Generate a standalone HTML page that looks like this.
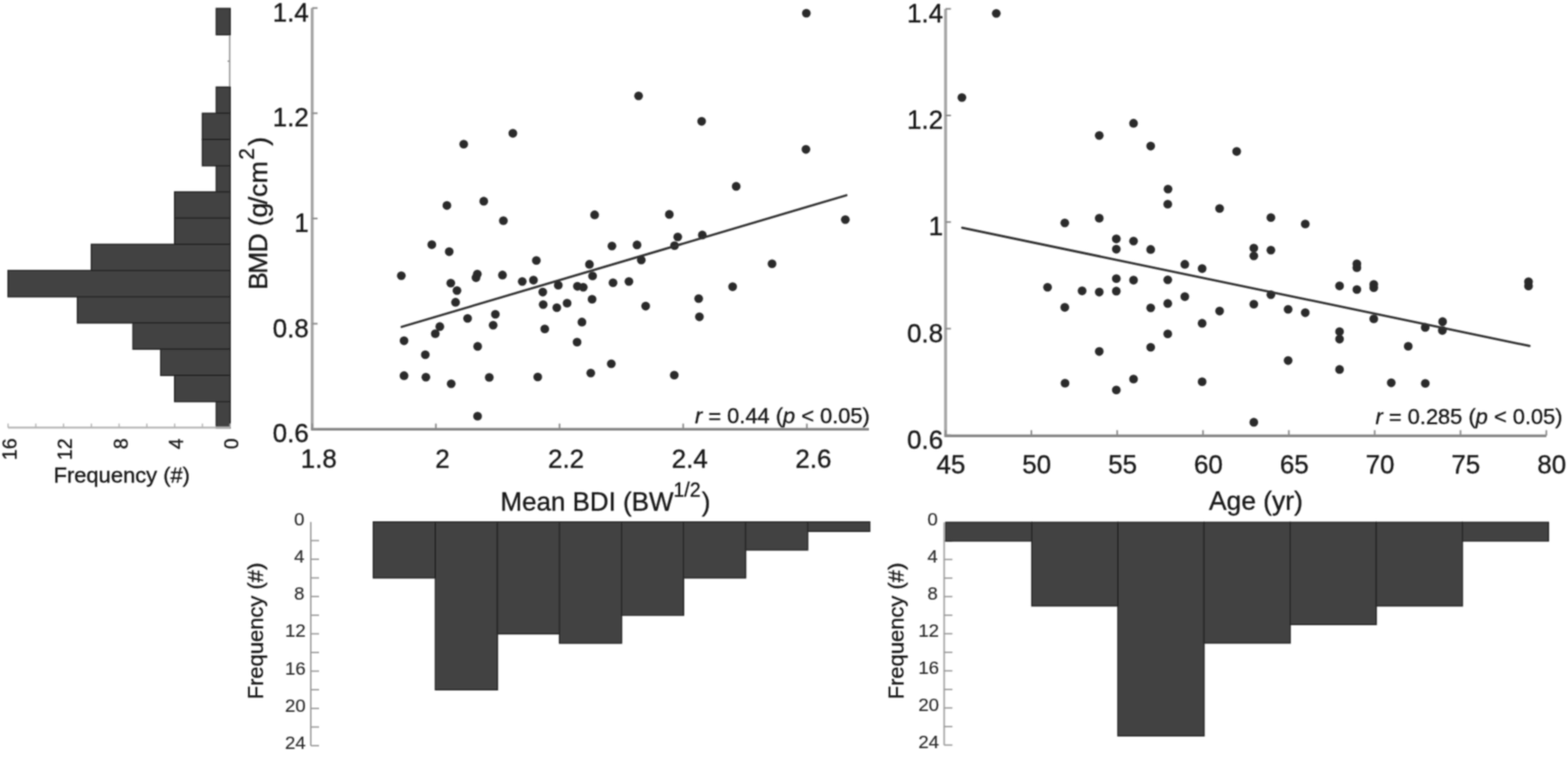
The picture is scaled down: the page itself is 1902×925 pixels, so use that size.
<!DOCTYPE html>
<html><head><meta charset="utf-8"><title>BMD vs BDI and Age</title>
<style>
html,body{margin:0;padding:0;background:#fff;}
body{width:1902px;height:925px;overflow:hidden;}
svg{display:block;}
svg text{font-family:"Liberation Sans", Arial, Helvetica, sans-serif;fill:#141414;stroke:#141414;stroke-width:0.35px;}
</style></head>
<body>
<svg width="1902" height="925" viewBox="0 0 1902 925">
<rect width="1902" height="925" fill="#fff"/>
<defs><filter id="bl" x="0" y="0" width="1902" height="925" filterUnits="userSpaceOnUse"><feConvolveMatrix order="5" kernelMatrix="0.0005 0.0050 0.0109 0.0050 0.0005 0.0050 0.0522 0.1141 0.0522 0.0050 0.0109 0.1141 0.2491 0.1141 0.0109 0.0050 0.0522 0.1141 0.0522 0.0050 0.0005 0.0050 0.0109 0.0050 0.0005" edgeMode="none"/></filter></defs>
<g id="fig" filter="url(#bl)">
<g id="hl">
<line x1="278.6" y1="10" x2="278.6" y2="518" stroke="#8a8a8a" stroke-width="1.6"/>
<rect x="262.36" y="10.3" width="16.84" height="31.77" fill="#424242" stroke="#262626" stroke-width="1.6"/>
<rect x="262.36" y="105.61" width="16.84" height="31.77" fill="#424242" stroke="#262626" stroke-width="1.6"/>
<rect x="245.52" y="137.38" width="33.68" height="31.77" fill="#424242" stroke="#262626" stroke-width="1.6"/>
<rect x="245.52" y="169.15" width="33.68" height="31.77" fill="#424242" stroke="#262626" stroke-width="1.6"/>
<rect x="262.36" y="200.92" width="16.84" height="31.77" fill="#424242" stroke="#262626" stroke-width="1.6"/>
<rect x="211.84" y="232.69" width="67.36" height="31.77" fill="#424242" stroke="#262626" stroke-width="1.6"/>
<rect x="211.84" y="264.46" width="67.36" height="31.77" fill="#424242" stroke="#262626" stroke-width="1.6"/>
<rect x="110.8" y="296.23" width="168.4" height="31.77" fill="#424242" stroke="#262626" stroke-width="1.6"/>
<rect x="9.76" y="328" width="269.44" height="31.77" fill="#424242" stroke="#262626" stroke-width="1.6"/>
<rect x="93.96" y="359.77" width="185.24" height="31.77" fill="#424242" stroke="#262626" stroke-width="1.6"/>
<rect x="161.32" y="391.54" width="117.88" height="31.77" fill="#424242" stroke="#262626" stroke-width="1.6"/>
<rect x="195" y="423.31" width="84.2" height="31.77" fill="#424242" stroke="#262626" stroke-width="1.6"/>
<rect x="211.84" y="455.08" width="67.36" height="31.77" fill="#424242" stroke="#262626" stroke-width="1.6"/>
<rect x="262.36" y="486.85" width="16.84" height="31.77" fill="#424242" stroke="#262626" stroke-width="1.6"/>
<line x1="276" y1="74.2" x2="279" y2="74.2" stroke="#8a8a8a" stroke-width="1.5"/>
<line x1="9.7" y1="518.3" x2="279.2" y2="518.3" stroke="#b4b4b4" stroke-width="2.2"/>
<line x1="279.2" y1="518.3" x2="279.2" y2="513.5" stroke="#b4b4b4" stroke-width="1.6"/>
<line x1="245.52" y1="518.3" x2="245.52" y2="513.5" stroke="#b4b4b4" stroke-width="1.6"/>
<line x1="211.84" y1="518.3" x2="211.84" y2="513.5" stroke="#b4b4b4" stroke-width="1.6"/>
<line x1="178.16" y1="518.3" x2="178.16" y2="513.5" stroke="#b4b4b4" stroke-width="1.6"/>
<line x1="144.48" y1="518.3" x2="144.48" y2="513.5" stroke="#b4b4b4" stroke-width="1.6"/>
<line x1="110.8" y1="518.3" x2="110.8" y2="513.5" stroke="#b4b4b4" stroke-width="1.6"/>
<line x1="77.12" y1="518.3" x2="77.12" y2="513.5" stroke="#b4b4b4" stroke-width="1.6"/>
<line x1="43.44" y1="518.3" x2="43.44" y2="513.5" stroke="#b4b4b4" stroke-width="1.6"/>
<line x1="9.76" y1="518.3" x2="9.76" y2="513.5" stroke="#b4b4b4" stroke-width="1.6"/>
<text transform="translate(11.96,531.5) rotate(-90)" text-anchor="end" dominant-baseline="central" font-size="23.5">16</text>
<text transform="translate(79.32,531.5) rotate(-90)" text-anchor="end" dominant-baseline="central" font-size="23.5">12</text>
<text transform="translate(146.68,531.5) rotate(-90)" text-anchor="end" dominant-baseline="central" font-size="23.5">8</text>
<text transform="translate(214.04,531.5) rotate(-90)" text-anchor="end" dominant-baseline="central" font-size="23.5">4</text>
<text transform="translate(281.4,531.5) rotate(-90)" text-anchor="end" dominant-baseline="central" font-size="23.5">0</text>
<text x="147.7" y="585" text-anchor="middle" font-size="26.6">Frequency (#)</text>
</g>
<g id="s1">
<line x1="378.7" y1="9.7" x2="378.7" y2="520" stroke="#a4a4a4" stroke-width="3.5"/>
<line x1="377.2" y1="520.4" x2="1054" y2="520.4" stroke="#868686" stroke-width="3.4"/>
<line x1="378.7" y1="9.7" x2="385.2" y2="9.7" stroke="#8a8a8a" stroke-width="2"/>
<text x="374.5" y="14.9" text-anchor="end" dominant-baseline="central" font-size="31.5">1.4</text>
<line x1="378.7" y1="137.28" x2="385.2" y2="137.28" stroke="#8a8a8a" stroke-width="2"/>
<text x="374.5" y="142.48" text-anchor="end" dominant-baseline="central" font-size="31.5">1.2</text>
<line x1="378.7" y1="264.86" x2="385.2" y2="264.86" stroke="#8a8a8a" stroke-width="2"/>
<text x="374.5" y="270.06" text-anchor="end" dominant-baseline="central" font-size="31.5">1</text>
<line x1="378.7" y1="392.44" x2="385.2" y2="392.44" stroke="#8a8a8a" stroke-width="2"/>
<text x="374.5" y="397.64" text-anchor="end" dominant-baseline="central" font-size="31.5">0.8</text>
<line x1="378.7" y1="520.02" x2="385.2" y2="520.02" stroke="#8a8a8a" stroke-width="2"/>
<text x="374.5" y="525.22" text-anchor="end" dominant-baseline="central" font-size="31.5">0.6</text>
<line x1="378.7" y1="520" x2="378.7" y2="513.5" stroke="#8a8a8a" stroke-width="2"/>
<text x="386.7" y="566.5" text-anchor="middle" font-size="31.5">1.8</text>
<line x1="528.7" y1="520" x2="528.7" y2="513.5" stroke="#8a8a8a" stroke-width="2"/>
<text x="536.7" y="566.5" text-anchor="middle" font-size="31.5">2</text>
<line x1="678.7" y1="520" x2="678.7" y2="513.5" stroke="#8a8a8a" stroke-width="2"/>
<text x="686.7" y="566.5" text-anchor="middle" font-size="31.5">2.2</text>
<line x1="828.7" y1="520" x2="828.7" y2="513.5" stroke="#8a8a8a" stroke-width="2"/>
<text x="836.7" y="566.5" text-anchor="middle" font-size="31.5">2.4</text>
<line x1="978.7" y1="520" x2="978.7" y2="513.5" stroke="#8a8a8a" stroke-width="2"/>
<text x="986.7" y="566.5" text-anchor="middle" font-size="31.5">2.6</text>
<circle cx="978.1" cy="16" r="5.3" fill="#2a2a2a"/>
<circle cx="774.6" cy="116.3" r="5.3" fill="#2a2a2a"/>
<circle cx="851.1" cy="147.1" r="5.3" fill="#2a2a2a"/>
<circle cx="977.6" cy="181.1" r="5.3" fill="#2a2a2a"/>
<circle cx="562.5" cy="174.8" r="5.3" fill="#2a2a2a"/>
<circle cx="622.1" cy="161.6" r="5.3" fill="#2a2a2a"/>
<circle cx="893" cy="225.9" r="5.3" fill="#2a2a2a"/>
<circle cx="811.9" cy="259.9" r="5.3" fill="#2a2a2a"/>
<circle cx="1025.4" cy="266.2" r="5.3" fill="#2a2a2a"/>
<circle cx="542.1" cy="249.1" r="5.3" fill="#2a2a2a"/>
<circle cx="586.8" cy="243.9" r="5.3" fill="#2a2a2a"/>
<circle cx="610.6" cy="267.5" r="5.3" fill="#2a2a2a"/>
<circle cx="721.3" cy="260.4" r="5.3" fill="#2a2a2a"/>
<circle cx="523.8" cy="296.6" r="5.3" fill="#2a2a2a"/>
<circle cx="544.9" cy="305.1" r="5.3" fill="#2a2a2a"/>
<circle cx="742.3" cy="298.2" r="5.3" fill="#2a2a2a"/>
<circle cx="650.6" cy="315.7" r="5.3" fill="#2a2a2a"/>
<circle cx="715" cy="320.4" r="5.3" fill="#2a2a2a"/>
<circle cx="486.8" cy="334.2" r="5.3" fill="#2a2a2a"/>
<circle cx="579" cy="332.2" r="5.3" fill="#2a2a2a"/>
<circle cx="577.4" cy="336.6" r="5.3" fill="#2a2a2a"/>
<circle cx="609.5" cy="333.4" r="5.3" fill="#2a2a2a"/>
<circle cx="633.5" cy="341.3" r="5.3" fill="#2a2a2a"/>
<circle cx="647.1" cy="339.6" r="5.3" fill="#2a2a2a"/>
<circle cx="718.8" cy="334.5" r="5.3" fill="#2a2a2a"/>
<circle cx="743.6" cy="342.7" r="5.3" fill="#2a2a2a"/>
<circle cx="546.8" cy="343.2" r="5.3" fill="#2a2a2a"/>
<circle cx="554.3" cy="352.3" r="5.3" fill="#2a2a2a"/>
<circle cx="677.2" cy="345.8" r="5.3" fill="#2a2a2a"/>
<circle cx="700.4" cy="347.1" r="5.3" fill="#2a2a2a"/>
<circle cx="707.5" cy="348.2" r="5.3" fill="#2a2a2a"/>
<circle cx="658.4" cy="354.1" r="5.3" fill="#2a2a2a"/>
<circle cx="552.6" cy="366.4" r="5.3" fill="#2a2a2a"/>
<circle cx="658.9" cy="369.3" r="5.3" fill="#2a2a2a"/>
<circle cx="687.9" cy="367.5" r="5.3" fill="#2a2a2a"/>
<circle cx="718.2" cy="362.8" r="5.3" fill="#2a2a2a"/>
<circle cx="675.4" cy="373" r="5.3" fill="#2a2a2a"/>
<circle cx="600.9" cy="381" r="5.3" fill="#2a2a2a"/>
<circle cx="567.2" cy="386" r="5.3" fill="#2a2a2a"/>
<circle cx="598.2" cy="394.3" r="5.3" fill="#2a2a2a"/>
<circle cx="533.5" cy="395.9" r="5.3" fill="#2a2a2a"/>
<circle cx="528" cy="404.5" r="5.3" fill="#2a2a2a"/>
<circle cx="490.1" cy="413.1" r="5.3" fill="#2a2a2a"/>
<circle cx="579.4" cy="419.9" r="5.3" fill="#2a2a2a"/>
<circle cx="515.9" cy="430" r="5.3" fill="#2a2a2a"/>
<circle cx="660.8" cy="398.7" r="5.3" fill="#2a2a2a"/>
<circle cx="705.9" cy="390.4" r="5.3" fill="#2a2a2a"/>
<circle cx="700" cy="414.7" r="5.3" fill="#2a2a2a"/>
<circle cx="741.5" cy="441" r="5.3" fill="#2a2a2a"/>
<circle cx="716.6" cy="452.3" r="5.3" fill="#2a2a2a"/>
<circle cx="652.3" cy="457" r="5.3" fill="#2a2a2a"/>
<circle cx="490.1" cy="455.4" r="5.3" fill="#2a2a2a"/>
<circle cx="516.6" cy="457.3" r="5.3" fill="#2a2a2a"/>
<circle cx="547.3" cy="465.3" r="5.3" fill="#2a2a2a"/>
<circle cx="593.5" cy="457.5" r="5.3" fill="#2a2a2a"/>
<circle cx="579.3" cy="504.5" r="5.3" fill="#2a2a2a"/>
<circle cx="822.1" cy="287.2" r="5.3" fill="#2a2a2a"/>
<circle cx="851.9" cy="284.9" r="5.3" fill="#2a2a2a"/>
<circle cx="772.7" cy="296.9" r="5.3" fill="#2a2a2a"/>
<circle cx="818.2" cy="297.7" r="5.3" fill="#2a2a2a"/>
<circle cx="777.9" cy="315.3" r="5.3" fill="#2a2a2a"/>
<circle cx="936.5" cy="319.7" r="5.3" fill="#2a2a2a"/>
<circle cx="762.9" cy="341.3" r="5.3" fill="#2a2a2a"/>
<circle cx="888.7" cy="347.6" r="5.3" fill="#2a2a2a"/>
<circle cx="847.5" cy="362" r="5.3" fill="#2a2a2a"/>
<circle cx="783.2" cy="371.1" r="5.3" fill="#2a2a2a"/>
<circle cx="848.4" cy="384.1" r="5.3" fill="#2a2a2a"/>
<circle cx="817.9" cy="454.7" r="5.3" fill="#2a2a2a"/>
<line x1="487.2" y1="396.3" x2="1026.7" y2="236.7" stroke="#303030" stroke-width="2.7" stroke-linecap="round"/>
<text x="843" y="512.8" font-size="26.5" xml:space="preserve"><tspan font-style="italic">r</tspan> = 0.44 (<tspan font-style="italic">p</tspan> &lt; 0.05)</text>
<text transform="translate(323.5,351.6) rotate(-90)" font-size="32.2" dx="0 -1.9 -1.05 0 -0.15 -0.35 -1.55 -0.3 0.45">BMD (g/cm<tspan dy="-15.3" dx="1.9" font-size="25">2</tspan><tspan dy="15.3" dx="2.95">)</tspan></text>
</g>
<g id="s2">
<line x1="1147.0" y1="10.7" x2="1147.0" y2="528" stroke="#a4a4a4" stroke-width="3.5"/>
<line x1="1145.5" y1="528.4" x2="1875.8" y2="528.4" stroke="#868686" stroke-width="3.4"/>
<line x1="1147.0" y1="10.7" x2="1153.5" y2="10.7" stroke="#8a8a8a" stroke-width="2"/>
<text x="1144.0" y="15.9" text-anchor="end" dominant-baseline="central" font-size="31.5">1.4</text>
<line x1="1147.0" y1="139.95" x2="1153.5" y2="139.95" stroke="#8a8a8a" stroke-width="2"/>
<text x="1144.0" y="145.15" text-anchor="end" dominant-baseline="central" font-size="31.5">1.2</text>
<line x1="1147.0" y1="269.2" x2="1153.5" y2="269.2" stroke="#8a8a8a" stroke-width="2"/>
<text x="1144.0" y="274.4" text-anchor="end" dominant-baseline="central" font-size="31.5">1</text>
<line x1="1147.0" y1="398.45" x2="1153.5" y2="398.45" stroke="#8a8a8a" stroke-width="2"/>
<text x="1144.0" y="403.65" text-anchor="end" dominant-baseline="central" font-size="31.5">0.8</text>
<line x1="1147.0" y1="527.7" x2="1153.5" y2="527.7" stroke="#8a8a8a" stroke-width="2"/>
<text x="1144.0" y="532.9" text-anchor="end" dominant-baseline="central" font-size="31.5">0.6</text>
<line x1="1147" y1="528" x2="1147" y2="521.5" stroke="#8a8a8a" stroke-width="2"/>
<text x="1153.5" y="574.4" text-anchor="middle" font-size="31.5">45</text>
<line x1="1251.1" y1="528" x2="1251.1" y2="521.5" stroke="#8a8a8a" stroke-width="2"/>
<text x="1257.6" y="574.4" text-anchor="middle" font-size="31.5">50</text>
<line x1="1355.2" y1="528" x2="1355.2" y2="521.5" stroke="#8a8a8a" stroke-width="2"/>
<text x="1361.7" y="574.4" text-anchor="middle" font-size="31.5">55</text>
<line x1="1459.3" y1="528" x2="1459.3" y2="521.5" stroke="#8a8a8a" stroke-width="2"/>
<text x="1465.8" y="574.4" text-anchor="middle" font-size="31.5">60</text>
<line x1="1563.4" y1="528" x2="1563.4" y2="521.5" stroke="#8a8a8a" stroke-width="2"/>
<text x="1569.9" y="574.4" text-anchor="middle" font-size="31.5">65</text>
<line x1="1667.5" y1="528" x2="1667.5" y2="521.5" stroke="#8a8a8a" stroke-width="2"/>
<text x="1674" y="574.4" text-anchor="middle" font-size="31.5">70</text>
<line x1="1771.6" y1="528" x2="1771.6" y2="521.5" stroke="#8a8a8a" stroke-width="2"/>
<text x="1778.1" y="574.4" text-anchor="middle" font-size="31.5">75</text>
<line x1="1875.7" y1="528" x2="1875.7" y2="521.5" stroke="#8a8a8a" stroke-width="2"/>
<text x="1882.2" y="574.4" text-anchor="middle" font-size="31.5">80</text>
<circle cx="1208.5" cy="16.2" r="5.3" fill="#2a2a2a"/>
<circle cx="1166.8" cy="118.3" r="5.3" fill="#2a2a2a"/>
<circle cx="1333.4" cy="164.3" r="5.3" fill="#2a2a2a"/>
<circle cx="1375" cy="149.4" r="5.3" fill="#2a2a2a"/>
<circle cx="1395.8" cy="177.1" r="5.3" fill="#2a2a2a"/>
<circle cx="1416.8" cy="229.3" r="5.3" fill="#2a2a2a"/>
<circle cx="1500.1" cy="183.6" r="5.3" fill="#2a2a2a"/>
<circle cx="1416.5" cy="247.5" r="5.3" fill="#2a2a2a"/>
<circle cx="1291.6" cy="270.3" r="5.3" fill="#2a2a2a"/>
<circle cx="1333.4" cy="264.5" r="5.3" fill="#2a2a2a"/>
<circle cx="1354.1" cy="289.6" r="5.3" fill="#2a2a2a"/>
<circle cx="1375" cy="292.2" r="5.3" fill="#2a2a2a"/>
<circle cx="1354.1" cy="302.1" r="5.3" fill="#2a2a2a"/>
<circle cx="1395.8" cy="302.4" r="5.3" fill="#2a2a2a"/>
<circle cx="1437.2" cy="320.4" r="5.3" fill="#2a2a2a"/>
<circle cx="1354.1" cy="337.7" r="5.3" fill="#2a2a2a"/>
<circle cx="1375" cy="339.6" r="5.3" fill="#2a2a2a"/>
<circle cx="1416.5" cy="339.2" r="5.3" fill="#2a2a2a"/>
<circle cx="1270.7" cy="348.3" r="5.3" fill="#2a2a2a"/>
<circle cx="1312.6" cy="352.6" r="5.3" fill="#2a2a2a"/>
<circle cx="1333.4" cy="354.1" r="5.3" fill="#2a2a2a"/>
<circle cx="1354.1" cy="352.9" r="5.3" fill="#2a2a2a"/>
<circle cx="1291.6" cy="372.6" r="5.3" fill="#2a2a2a"/>
<circle cx="1395.8" cy="373.3" r="5.3" fill="#2a2a2a"/>
<circle cx="1416.5" cy="367.9" r="5.3" fill="#2a2a2a"/>
<circle cx="1437.2" cy="359.6" r="5.3" fill="#2a2a2a"/>
<circle cx="1479.4" cy="252.7" r="5.3" fill="#2a2a2a"/>
<circle cx="1541.6" cy="263.7" r="5.3" fill="#2a2a2a"/>
<circle cx="1583.3" cy="271.5" r="5.3" fill="#2a2a2a"/>
<circle cx="1520.9" cy="300.8" r="5.3" fill="#2a2a2a"/>
<circle cx="1520.9" cy="310.2" r="5.3" fill="#2a2a2a"/>
<circle cx="1541.6" cy="303.2" r="5.3" fill="#2a2a2a"/>
<circle cx="1458.2" cy="325.6" r="5.3" fill="#2a2a2a"/>
<circle cx="1645.9" cy="319.7" r="5.3" fill="#2a2a2a"/>
<circle cx="1645.9" cy="324.4" r="5.3" fill="#2a2a2a"/>
<circle cx="1624.9" cy="346.6" r="5.3" fill="#2a2a2a"/>
<circle cx="1645.9" cy="351" r="5.3" fill="#2a2a2a"/>
<circle cx="1666.4" cy="344.7" r="5.3" fill="#2a2a2a"/>
<circle cx="1666.4" cy="348.7" r="5.3" fill="#2a2a2a"/>
<circle cx="1541.6" cy="357.3" r="5.3" fill="#2a2a2a"/>
<circle cx="1520.9" cy="368.7" r="5.3" fill="#2a2a2a"/>
<circle cx="1479.4" cy="377.1" r="5.3" fill="#2a2a2a"/>
<circle cx="1562.5" cy="375" r="5.3" fill="#2a2a2a"/>
<circle cx="1583.3" cy="379.1" r="5.3" fill="#2a2a2a"/>
<circle cx="1458.2" cy="391.9" r="5.3" fill="#2a2a2a"/>
<circle cx="1666.4" cy="386.5" r="5.3" fill="#2a2a2a"/>
<circle cx="1624.9" cy="402.1" r="5.3" fill="#2a2a2a"/>
<circle cx="1624.9" cy="411.1" r="5.3" fill="#2a2a2a"/>
<circle cx="1708.2" cy="419.7" r="5.3" fill="#2a2a2a"/>
<circle cx="1562.5" cy="437.1" r="5.3" fill="#2a2a2a"/>
<circle cx="1624.9" cy="447.9" r="5.3" fill="#2a2a2a"/>
<circle cx="1458.2" cy="462.8" r="5.3" fill="#2a2a2a"/>
<circle cx="1687.6" cy="464.1" r="5.3" fill="#2a2a2a"/>
<circle cx="1520.9" cy="511.9" r="5.3" fill="#2a2a2a"/>
<circle cx="1416.5" cy="404.8" r="5.3" fill="#2a2a2a"/>
<circle cx="1395.8" cy="421" r="5.3" fill="#2a2a2a"/>
<circle cx="1333.4" cy="426.1" r="5.3" fill="#2a2a2a"/>
<circle cx="1291.9" cy="464.5" r="5.3" fill="#2a2a2a"/>
<circle cx="1354.1" cy="472.7" r="5.3" fill="#2a2a2a"/>
<circle cx="1375" cy="459.5" r="5.3" fill="#2a2a2a"/>
<circle cx="1728.8" cy="396.9" r="5.3" fill="#2a2a2a"/>
<circle cx="1749.9" cy="389.9" r="5.3" fill="#2a2a2a"/>
<circle cx="1749.6" cy="400.6" r="5.3" fill="#2a2a2a"/>
<circle cx="1728.9" cy="464.8" r="5.3" fill="#2a2a2a"/>
<circle cx="1854.1" cy="341.6" r="5.3" fill="#2a2a2a"/>
<circle cx="1854.1" cy="346.8" r="5.3" fill="#2a2a2a"/>
<line x1="1167.2" y1="276.1" x2="1855.3" y2="419.4" stroke="#303030" stroke-width="2.7" stroke-linecap="round"/>
<text x="1668.5" y="514.4" font-size="26.5" xml:space="preserve"><tspan font-style="italic">r</tspan> = 0.285 (<tspan font-style="italic">p</tspan> &lt; 0.05)</text>
</g>
<g id="b1">
<line x1="377.0" y1="632.8" x2="377.0" y2="904.0" stroke="#a6a6a6" stroke-width="2.0"/>
<text x="369.2" y="629.2" text-anchor="end" dominant-baseline="central" font-size="22.5" style="fill:#2a2a2a;stroke:#2a2a2a;stroke-width:0.2px">0</text>
<line x1="377.0" y1="655.4" x2="387.0" y2="655.4" stroke="#9a9a9a" stroke-width="1.7"/>
<line x1="377.0" y1="678" x2="387.0" y2="678" stroke="#9a9a9a" stroke-width="1.7"/>
<text x="369.2" y="674.4" text-anchor="end" dominant-baseline="central" font-size="22.5" style="fill:#2a2a2a;stroke:#2a2a2a;stroke-width:0.2px">4</text>
<line x1="377.0" y1="700.6" x2="387.0" y2="700.6" stroke="#9a9a9a" stroke-width="1.7"/>
<line x1="377.0" y1="723.2" x2="387.0" y2="723.2" stroke="#9a9a9a" stroke-width="1.7"/>
<text x="369.2" y="719.6" text-anchor="end" dominant-baseline="central" font-size="22.5" style="fill:#2a2a2a;stroke:#2a2a2a;stroke-width:0.2px">8</text>
<line x1="377.0" y1="745.8" x2="387.0" y2="745.8" stroke="#9a9a9a" stroke-width="1.7"/>
<line x1="377.0" y1="768.4" x2="387.0" y2="768.4" stroke="#9a9a9a" stroke-width="1.7"/>
<text x="370.7" y="764.8" text-anchor="end" dominant-baseline="central" font-size="22.5" style="fill:#2a2a2a;stroke:#2a2a2a;stroke-width:0.2px">12</text>
<line x1="377.0" y1="791" x2="387.0" y2="791" stroke="#9a9a9a" stroke-width="1.7"/>
<line x1="377.0" y1="813.6" x2="387.0" y2="813.6" stroke="#9a9a9a" stroke-width="1.7"/>
<text x="370.7" y="810" text-anchor="end" dominant-baseline="central" font-size="22.5" style="fill:#2a2a2a;stroke:#2a2a2a;stroke-width:0.2px">16</text>
<line x1="377.0" y1="836.2" x2="387.0" y2="836.2" stroke="#9a9a9a" stroke-width="1.7"/>
<line x1="377.0" y1="858.8" x2="387.0" y2="858.8" stroke="#9a9a9a" stroke-width="1.7"/>
<text x="370.7" y="855.2" text-anchor="end" dominant-baseline="central" font-size="22.5" style="fill:#2a2a2a;stroke:#2a2a2a;stroke-width:0.2px">20</text>
<line x1="377.0" y1="881.4" x2="387.0" y2="881.4" stroke="#9a9a9a" stroke-width="1.7"/>
<line x1="377.0" y1="904" x2="387.0" y2="904" stroke="#9a9a9a" stroke-width="1.7"/>
<text x="370.7" y="900.4" text-anchor="end" dominant-baseline="central" font-size="22.5" style="fill:#2a2a2a;stroke:#2a2a2a;stroke-width:0.2px">24</text>
<rect x="452.9" y="632.8" width="75.26" height="67.8" fill="#424242" stroke="#262626" stroke-width="1.6"/>
<rect x="528.16" y="632.8" width="75.26" height="203.4" fill="#424242" stroke="#262626" stroke-width="1.6"/>
<rect x="603.42" y="632.8" width="75.26" height="135.6" fill="#424242" stroke="#262626" stroke-width="1.6"/>
<rect x="678.68" y="632.8" width="75.26" height="146.9" fill="#424242" stroke="#262626" stroke-width="1.6"/>
<rect x="753.94" y="632.8" width="75.26" height="113" fill="#424242" stroke="#262626" stroke-width="1.6"/>
<rect x="829.2" y="632.8" width="75.26" height="67.8" fill="#424242" stroke="#262626" stroke-width="1.6"/>
<rect x="904.46" y="632.8" width="75.26" height="33.9" fill="#424242" stroke="#262626" stroke-width="1.6"/>
<rect x="979.72" y="632.8" width="75.26" height="11.3" fill="#424242" stroke="#262626" stroke-width="1.6"/>
<text transform="translate(309.5,765) rotate(-90)" text-anchor="middle" dominant-baseline="central" font-size="26.6">Frequency (#)</text>
<text x="607" y="618.6" font-size="31.5">Mean BDI (BW<tspan dy="-17" font-size="23.5">1/2</tspan><tspan dy="17" dx="1.5">)</tspan></text>
</g>
<g id="b2">
<line x1="1145.3" y1="633.3" x2="1145.3" y2="903.3" stroke="#a6a6a6" stroke-width="2.0"/>
<text x="1137.5" y="629.7" text-anchor="end" dominant-baseline="central" font-size="22.5" style="fill:#2a2a2a;stroke:#2a2a2a;stroke-width:0.2px">0</text>
<line x1="1145.3" y1="655.8" x2="1155.3" y2="655.8" stroke="#9a9a9a" stroke-width="1.7"/>
<line x1="1145.3" y1="678.3" x2="1155.3" y2="678.3" stroke="#9a9a9a" stroke-width="1.7"/>
<text x="1137.5" y="674.7" text-anchor="end" dominant-baseline="central" font-size="22.5" style="fill:#2a2a2a;stroke:#2a2a2a;stroke-width:0.2px">4</text>
<line x1="1145.3" y1="700.8" x2="1155.3" y2="700.8" stroke="#9a9a9a" stroke-width="1.7"/>
<line x1="1145.3" y1="723.3" x2="1155.3" y2="723.3" stroke="#9a9a9a" stroke-width="1.7"/>
<text x="1137.5" y="719.7" text-anchor="end" dominant-baseline="central" font-size="22.5" style="fill:#2a2a2a;stroke:#2a2a2a;stroke-width:0.2px">8</text>
<line x1="1145.3" y1="745.8" x2="1155.3" y2="745.8" stroke="#9a9a9a" stroke-width="1.7"/>
<line x1="1145.3" y1="768.3" x2="1155.3" y2="768.3" stroke="#9a9a9a" stroke-width="1.7"/>
<text x="1139.0" y="764.7" text-anchor="end" dominant-baseline="central" font-size="22.5" style="fill:#2a2a2a;stroke:#2a2a2a;stroke-width:0.2px">12</text>
<line x1="1145.3" y1="790.8" x2="1155.3" y2="790.8" stroke="#9a9a9a" stroke-width="1.7"/>
<line x1="1145.3" y1="813.3" x2="1155.3" y2="813.3" stroke="#9a9a9a" stroke-width="1.7"/>
<text x="1139.0" y="809.7" text-anchor="end" dominant-baseline="central" font-size="22.5" style="fill:#2a2a2a;stroke:#2a2a2a;stroke-width:0.2px">16</text>
<line x1="1145.3" y1="835.8" x2="1155.3" y2="835.8" stroke="#9a9a9a" stroke-width="1.7"/>
<line x1="1145.3" y1="858.3" x2="1155.3" y2="858.3" stroke="#9a9a9a" stroke-width="1.7"/>
<text x="1139.0" y="854.7" text-anchor="end" dominant-baseline="central" font-size="22.5" style="fill:#2a2a2a;stroke:#2a2a2a;stroke-width:0.2px">20</text>
<line x1="1145.3" y1="880.8" x2="1155.3" y2="880.8" stroke="#9a9a9a" stroke-width="1.7"/>
<line x1="1145.3" y1="903.3" x2="1155.3" y2="903.3" stroke="#9a9a9a" stroke-width="1.7"/>
<text x="1139.0" y="899.7" text-anchor="end" dominant-baseline="central" font-size="22.5" style="fill:#2a2a2a;stroke:#2a2a2a;stroke-width:0.2px">24</text>
<rect x="1147.2" y="633.3" width="104.44" height="22.5" fill="#424242" stroke="#262626" stroke-width="1.6"/>
<rect x="1251.64" y="633.3" width="104.44" height="101.25" fill="#424242" stroke="#262626" stroke-width="1.6"/>
<rect x="1356.08" y="633.3" width="104.44" height="258.75" fill="#424242" stroke="#262626" stroke-width="1.6"/>
<rect x="1460.52" y="633.3" width="104.44" height="146.25" fill="#424242" stroke="#262626" stroke-width="1.6"/>
<rect x="1564.96" y="633.3" width="104.44" height="123.75" fill="#424242" stroke="#262626" stroke-width="1.6"/>
<rect x="1669.4" y="633.3" width="104.44" height="101.25" fill="#424242" stroke="#262626" stroke-width="1.6"/>
<rect x="1773.84" y="633.3" width="104.44" height="22.5" fill="#424242" stroke="#262626" stroke-width="1.6"/>
<text transform="translate(1086.8,765) rotate(-90)" text-anchor="middle" dominant-baseline="central" font-size="26.6">Frequency (#)</text>
<text x="1466.5" y="618.2" font-size="32">Age (yr)</text>
</g>
</g>
</svg>
</body></html>
